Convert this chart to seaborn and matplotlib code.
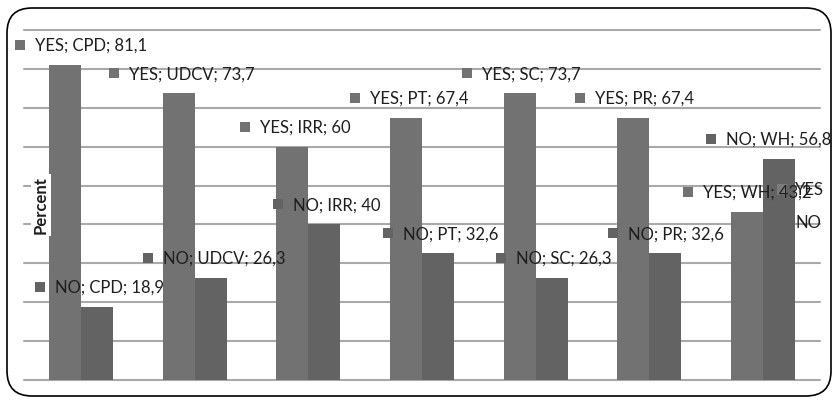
import matplotlib
matplotlib.use("Agg")
import matplotlib.pyplot as plt
import matplotlib.transforms as mtransforms
from matplotlib.patches import FancyBboxPatch, Patch
import pandas as pd
import seaborn as sns

# ---- data -------------------------------------------------------------
categories = ["CPD", "UDCV", "IRR", "PT", "SC", "PR", "WH"]
series = ["YES", "NO"]
yes_values = [81.1, 73.7, 60, 67.4, 73.7, 67.4, 43.2]
no_values = [18.9, 26.3, 40, 32.6, 26.3, 32.6, 56.8]

# horizontal shift (pixels) of each data label's key square from its bar centre
yes_label_dx = [-45, -65, -47, -51, -53, -53.5, -59]
no_label_dx = [-57, -63, -46, -50, -51, -52.5, -68]

df = pd.DataFrame({
    "category": categories * 2,
    "series": ["YES"] * len(categories) + ["NO"] * len(categories),
    "value": yes_values + no_values,
})

colors = {"YES": "#727272", "NO": "#636363"}
text_color = "#1e1e1e"

sns.set_theme(style="white")
plt.rcParams["font.family"] = ["Lato", "DejaVu Sans"]

W, H = 835, 400
fig = plt.figure(figsize=(W / 100, H / 100), dpi=100)
ax = fig.add_axes([24 / W, 20 / H, (820 - 24) / W, 350 / H])

sns.barplot(data=df, x="category", y="value", hue="series", hue_order=series,
            order=categories, palette=colors, width=0.563, saturation=1,
            edgecolor="none", linewidth=0, legend=False, ax=ax)

ax.set_xlim(-0.5, len(categories) - 0.5)
ax.set_ylim(0, 90)
ax.set_yticks(range(0, 91, 10))
ax.set_axisbelow(True)
ax.yaxis.grid(True, color="#a9a9a9", linewidth=1.5)
ax.xaxis.grid(False)
for gl in ax.get_ygridlines():
    gl.set_clip_on(False)
ax.tick_params(left=False, bottom=False, labelleft=False, labelbottom=False)
for s in ax.spines.values():
    s.set_visible(False)
ax.set_xlabel("")
ax.set_ylabel("")


def shifted(dx, dy):
    return mtransforms.offset_copy(ax.transData, fig=fig, x=dx, y=dy, units="dots")


# data labels: key square + "SERIES; CATEGORY; value"
for cont, name, vals, dxs in zip(ax.containers, series,
                                 [yes_values, no_values],
                                 [yes_label_dx, no_label_dx]):
    for bar, cat, v, dx in zip(cont, categories, vals, dxs):
        xc = bar.get_x() + bar.get_width() / 2
        h = bar.get_height()
        ax.plot([xc], [h], marker="s", ms=7, color=colors[name], mew=0,
                transform=shifted(dx, 20), clip_on=False, zorder=4)
        label = f"{name}; {cat}; {v:g}".replace(".", ",")
        ax.text(xc, h, label, transform=shifted(dx + 15, 19), ha="left",
                va="center", fontsize=12, color=text_color, zorder=6,
                clip_on=False)

# axis title sits inside the plot area on a white patch
fig.text(41 / W, 1 - 205 / H, "Percent", rotation=90, ha="center", va="center",
         fontsize=12, fontweight="bold", color=text_color, zorder=3,
         bbox=dict(facecolor="white", edgecolor="none", pad=1.5))

handles = [Patch(facecolor=c, edgecolor="none") for c in ["#7c7c7c", colors["NO"]]]
leg = ax.legend(handles, series, loc="center left",
                bbox_to_anchor=(777 / W, 1 - 206.5 / H),
                bbox_transform=fig.transFigure, frameon=False, fontsize=12,
                handlelength=0.6, handleheight=0.6, handletextpad=0.5,
                labelspacing=1.0, borderpad=0, borderaxespad=0,
                labelcolor=text_color)
leg.set_zorder(4.5)

# rounded chart frame
frame = FancyBboxPatch((0.07, 0.04), (831 - 7) / 100, (396 - 8) / 100,
                       boxstyle="round,pad=0,rounding_size=0.25",
                       transform=fig.dpi_scale_trans, fill=False,
                       edgecolor="black", linewidth=1.2)
fig.add_artist(frame)

fig.savefig("out.png", dpi=100)
